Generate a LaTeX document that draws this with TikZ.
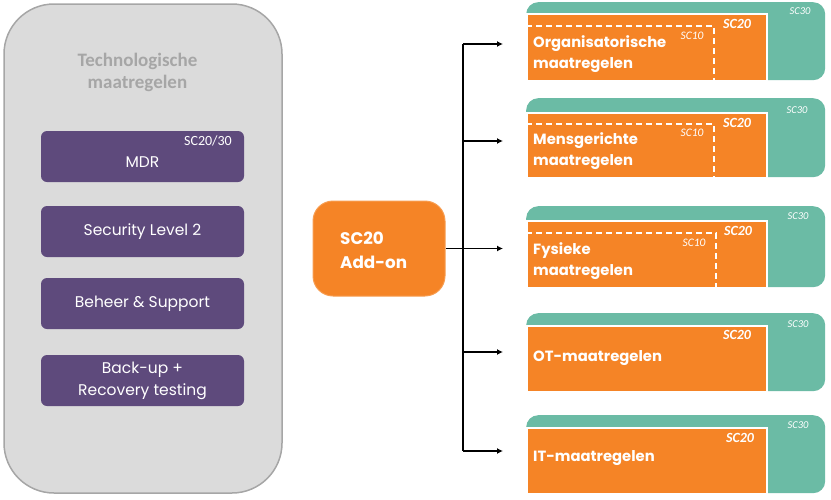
\documentclass[tikz,border=0pt]{standalone}
\usepackage{fontspec}
\setmainfont{Carlito}
\newfontfamily\popfont{Poppins}
\usetikzlibrary{arrows.meta}

\definecolor{panelgray}{HTML}{DBDBDB}
\definecolor{panelline}{HTML}{A6A6A6}
\definecolor{purplebox}{HTML}{5E4A7C}
\definecolor{orangebox}{HTML}{F58426}
\definecolor{tealbox}{HTML}{6BBBA5}

\tikzset{
  measure/.style={rectangle, rounded corners=6pt, fill=purplebox, text=white,
    minimum width=203pt, minimum height=51pt, align=center,
    font=\popfont\fontsize{15.5}{22}\selectfont},
  scbox/.style={rectangle, rounded corners=12pt, fill=tealbox, anchor=north west,
    minimum width=299pt},
  topicbox/.style={rectangle, fill=orangebox, draw=white, line width=1.5pt,
    anchor=north west, minimum width=240pt},
  topictext/.style={anchor=west, text=white, align=left, inner sep=0pt,
    font=\popfont\bfseries\fontsize{14.8}{21}\selectfont},
  sctwenty/.style={text=white, font=\bfseries\itshape\fontsize{14}{14}\selectfont, inner sep=0pt},
  scsmall/.style={text=white, font=\itshape\fontsize{10.5}{11}\selectfont, inner sep=0pt},
  scten/.style={text=white, font=\itshape\fontsize{11.5}{12}\selectfont, inner sep=0pt},
  scopeline/.style={white, line width=1.5pt, dash pattern=on 6pt off 4pt},
  branch/.style={black, line width=1.2pt, -{Latex[length=6pt,width=6pt]}}
}

\begin{document}
\begin{tikzpicture}[x=1pt, y=-1pt]
    \useasboundingbox (0,0) rectangle (831,499);

    % technologische maatregelen
    \node[rectangle, rounded corners=50pt, fill=panelgray, draw=panelline, line width=1.5pt,
      minimum width=278pt, minimum height=489pt] (panel) at (143,248.5) {};
    \node[text=panelline, align=center, font=\bfseries\fontsize{19}{22}\selectfont]
      (paneltitle) at (137.5,72) {Technologische\\maatregelen};
    \node[measure] (mdr) at (142.5,156.5) {};
    \node[text=white, font=\popfont\fontsize{15.5}{22}\selectfont] (mdrtext) at (142.5,162) {MDR};
    \node[text=white, font=\fontsize{14}{14}\selectfont, inner sep=0pt] (mdrsc) at (208,141) {SC20/30};
    \node[measure] (security) at (142.5,231.5) {Security Level 2};
    \node[measure] (beheer) at (142.5,303.5) {Beheer \& Support};
    \node[measure] (backup) at (142.5,380.5) {Back-up +\\Recovery testing};

    % add-on
    \node[rectangle, rounded corners=20pt, fill=orangebox, draw=orangebox!80!white, line width=1pt,
      minimum width=132pt, minimum height=95pt] (addon) at (379,248.5) {};
    \node[anchor=west, text=white, align=left, inner sep=0pt,
      font=\popfont\bfseries\fontsize{16.8}{24}\selectfont]
      (addontext) at (340,250) {SC20\\Add-on};

    % connectors
    \coordinate (j1) at (463,44);
    \coordinate (j2) at (463,141);
    \coordinate (j3) at (463,248.5);
    \coordinate (j4) at (463,352);
    \coordinate (j5) at (463,451);
    \coordinate (a1) at (503,44);
    \coordinate (a2) at (503,141);
    \coordinate (a3) at (503,248.5);
    \coordinate (a4) at (503,352);
    \coordinate (a5) at (503,451);
    \draw[black, line width=1.2pt] (addon.east) -- (j3);
    \draw[black, line width=1.2pt] (j1) -- (j5);
    \draw[branch] (j1) -- (a1);
    \draw[branch] (j2) -- (a2);
    \draw[branch] (j3) -- (a3);
    \draw[branch] (j4) -- (a4);
    \draw[branch] (j5) -- (a5);

    % organisatorische maatregelen
    \node[scbox, minimum height=78pt] (t1) at (526,2) {};
    \node[topicbox, minimum height=67pt] (o1) at (526,13) {};
    \draw[scopeline] (526,26) -- (714,26) -- (714,80);
    \node[topictext] (o1text) at (533,54.5) {Organisatorische\\maatregelen};
    \node[sctwenty] (o1sc20) at (737,24) {SC20};
    \node[scten] (o1sc10) at (692,36) {SC10};
    \node[scsmall] (t1sc30) at (800,11) {SC30};

    % mensgerichte maatregelen
    \node[scbox, minimum height=79pt] (t2) at (526,98) {};
    \node[topicbox, minimum height=65pt] (o2) at (526,112) {};
    \draw[scopeline] (526,124) -- (714,124) -- (714,177);
    \node[topictext] (o2text) at (533,151.5) {Mensgerichte\\maatregelen};
    \node[sctwenty] (o2sc20) at (737,123) {SC20};
    \node[scten] (o2sc10) at (692,133) {SC10};
    \node[scsmall] (t2sc30) at (797,110) {SC30};

    % fysieke maatregelen
    \node[scbox, minimum height=81pt] (t3) at (526,206) {};
    \node[topicbox, minimum height=67pt] (o3) at (526,220) {};
    \draw[scopeline] (526,233) -- (716,233) -- (716,287);
    \node[topictext] (o3text) at (533,261.5) {Fysieke\\maatregelen};
    \node[sctwenty] (o3sc20) at (738,231) {SC20};
    \node[scten] (o3sc10) at (694,243) {SC10};
    \node[scsmall] (t3sc30) at (798,216) {SC30};

    % ot-maatregelen
    \node[scbox, minimum height=78pt] (t4) at (526,313) {};
    \node[topicbox, minimum height=66pt] (o4) at (526,325) {};
    \node[topictext] (o4text) at (533,358) {OT-maatregelen};
    \node[sctwenty] (o4sc20) at (737,335) {SC20};
    \node[scsmall] (t4sc30) at (798,324) {SC30};

    % it-maatregelen
    \node[scbox, minimum height=78pt] (t5) at (526,415) {};
    \node[topicbox, minimum height=66pt] (o5) at (526,427) {};
    \node[topictext] (o5text) at (533,458) {IT-maatregelen};
    \node[sctwenty] (o5sc20) at (740,438) {SC20};
    \node[scsmall] (t5sc30) at (798,425) {SC30};
\end{tikzpicture}
\end{document}
